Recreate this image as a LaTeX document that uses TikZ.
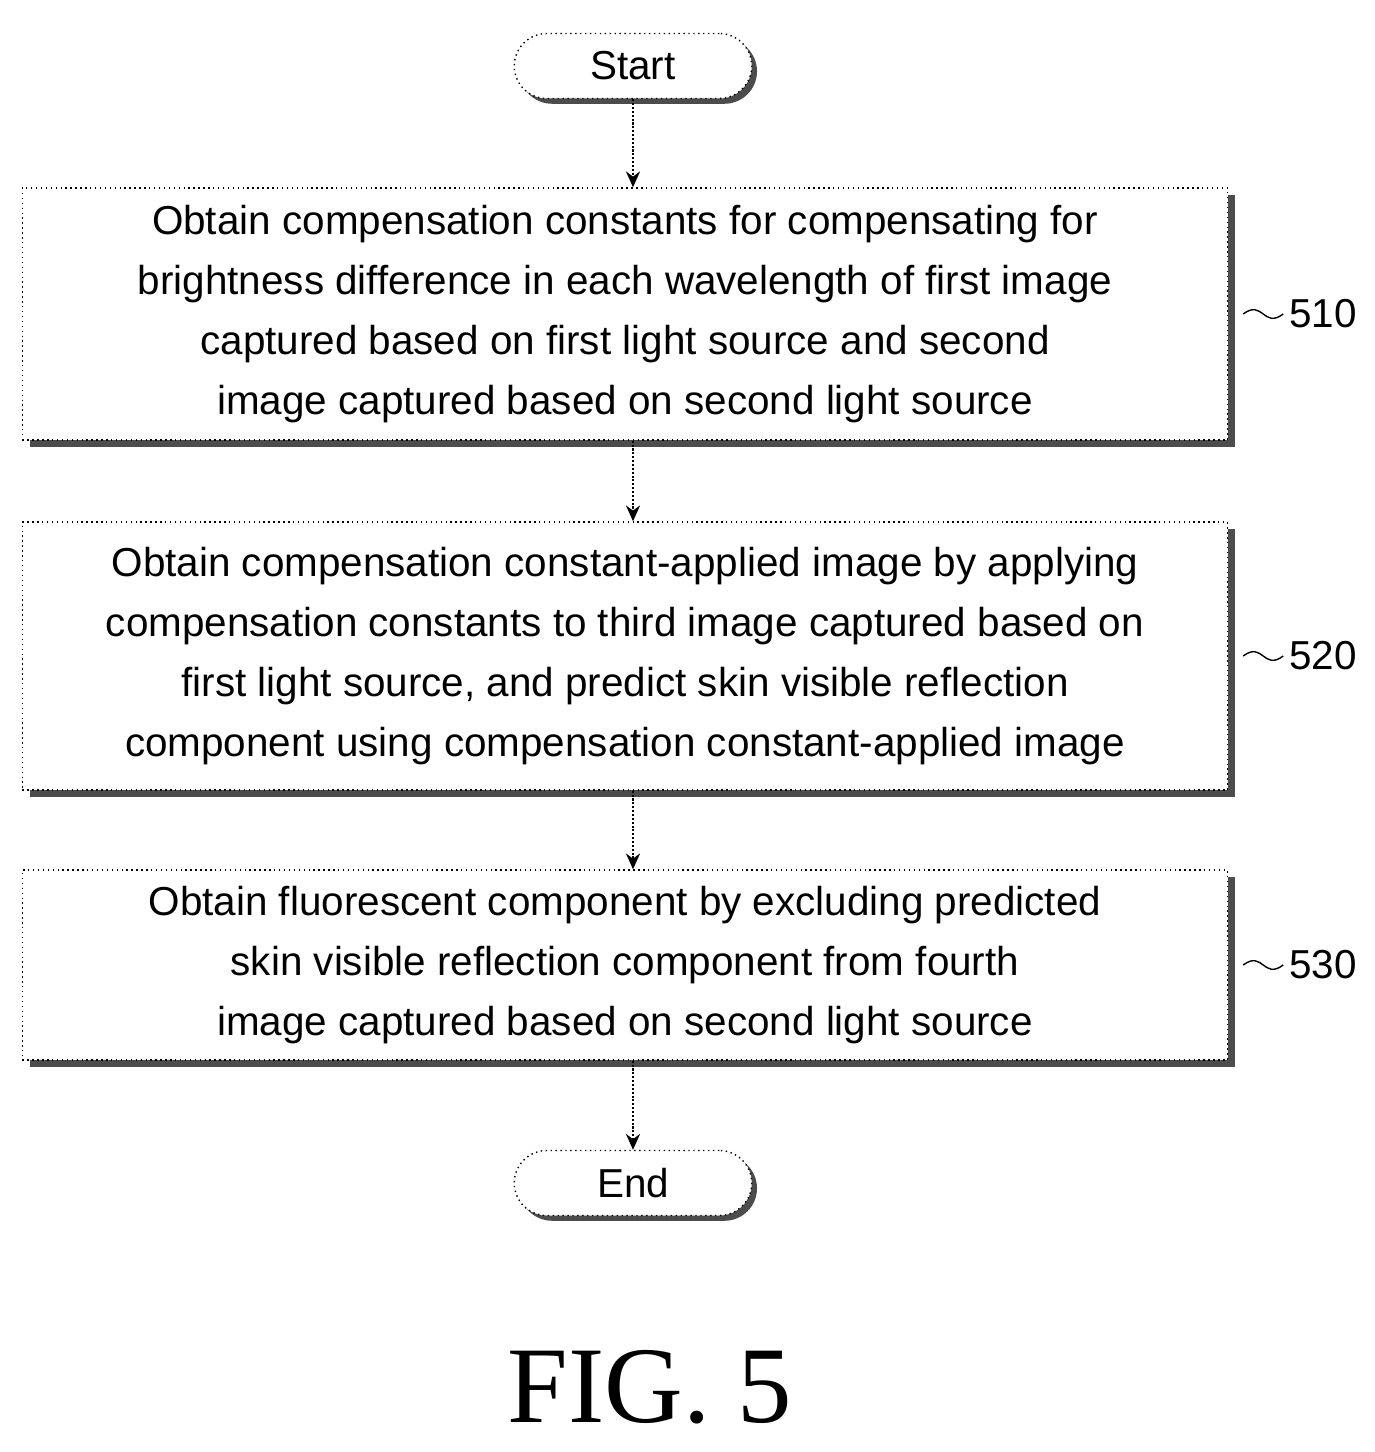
\documentclass[tikz,border=0pt]{standalone}
\usepackage{fontspec}
\setmainfont{Liberation Sans}
\newfontfamily\figfont{Liberation Serif}
\usetikzlibrary{shadows,positioning,arrows.meta}
\tikzstyle{block} = [draw, dotted, thick, fill=white, rectangle, minimum width=24.1cm,
    align=center, font=\fontsize{23}{34}\selectfont,
    drop shadow={shadow xshift=4pt, shadow yshift=-4pt, fill=black!70, opacity=1}]
\tikzstyle{term} = [draw, dotted, thick, fill=white, rounded corners=0.65cm,
    minimum width=4.75cm, minimum height=1.3cm, font=\fontsize{23}{34}\selectfont,
    drop shadow={shadow xshift=3pt, shadow yshift=-3pt, fill=black!70, opacity=1}]
\tikzstyle{flow} = [-{Stealth[length=9pt,width=8pt]}, densely dotted, very thick]
\tikzstyle{steplabel} = [font=\fontsize{23}{30}\selectfont]

\begin{document}
\begin{tikzpicture}
    \useasboundingbox (0,0) rectangle (27.48,-29.04);
    \node[term] (start) at (12.66,-1.32) {Start};
    \node[block, minimum height=5.04cm] (b510) at (12.5,-6.28)
        {Obtain compensation constants for compensating for\\
         brightness difference in each wavelength of first image\\
         captured based on first light source and second\\
         image captured based on second light source};
    \node[block, minimum height=5.36cm] (b520) at (12.5,-13.12)
        {Obtain compensation constant-applied image by applying\\
         compensation constants to third image captured based on\\
         first light source, and predict skin visible reflection\\
         component using compensation constant-applied image};
    \node[block, minimum height=3.8cm] (b530) at (12.5,-19.3)
        {Obtain fluorescent component by excluding predicted\\
         skin visible reflection component from fourth\\
         image captured based on second light source};
    \node[term] (end) at (12.66,-23.66) {End};

    \node[steplabel, right=1.1cm of b510.east] (l510) {510};
    \node[steplabel, right=1.1cm of b520.east] (l520) {520};
    \node[steplabel, right=1.1cm of b530.east] (l530) {530};
    \foreach \b/\l in {b510/l510, b520/l520, b530/l530}
        \draw[thick] ([xshift=0.3cm]\b.east) .. controls +(0.4,0.3) and +(-0.4,-0.3) .. (\l.west);

    \draw[flow] (start) -- (start |- b510.north);
    \draw[flow] (start |- b510.south) -- (start |- b520.north);
    \draw[flow] (start |- b520.south) -- (start |- b530.north);
    \draw[flow] (start |- b530.south) -- (end);

    \node[font=\fontsize{62}{62}\selectfont\figfont] (fig) at (13,-27.75) {FIG. 5};
\end{tikzpicture}
\end{document}
